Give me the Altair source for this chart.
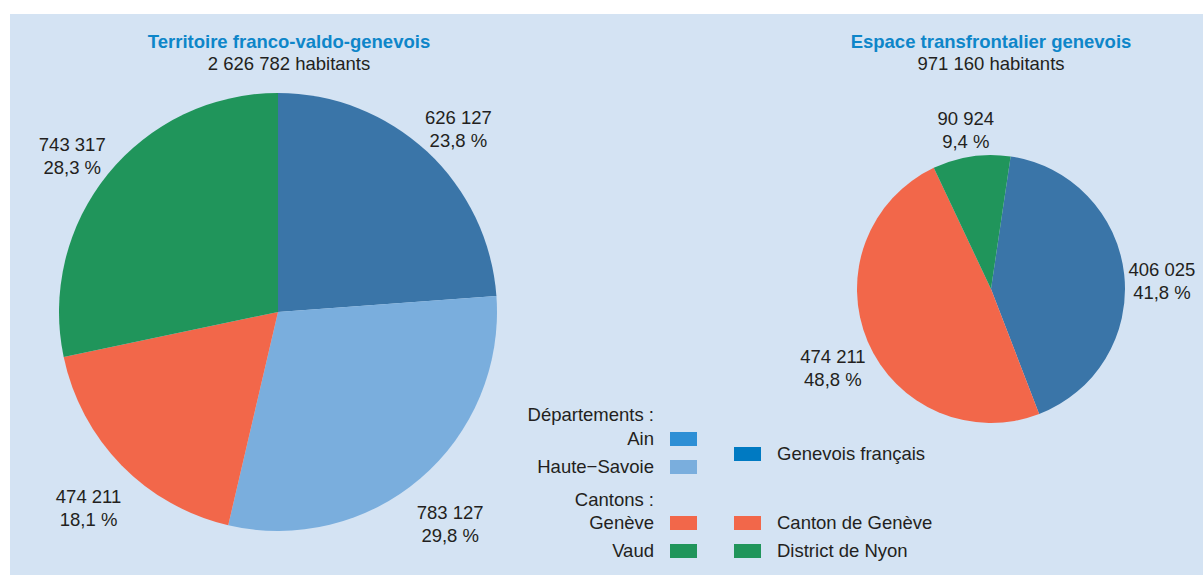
import math

import altair as alt
import pandas as pd

# Territoire franco-valdo-genevois: population by département / canton
areas_left = ["Ain", "Haute-Savoie", "Genève", "Vaud"]
pop_left = [626127, 783127, 474211, 743317]
colors_left = ["#3a75a8", "#7aaedd", "#f2674a", "#20955b"]

# Espace transfrontalier genevois: population by sub-area
areas_right = ["Genevois français", "Canton de Genève", "District de Nyon"]
pop_right = [406025, 474211, 90924]
colors_right = ["#3a75a8", "#f2674a", "#20955b"]

# Legend entries (label, swatch colour)
legend_departements = ["Ain", "Haute\u2212Savoie"]
legend_departements_colors = ["#2d8fd5", "#7aaedd"]
legend_cantons = ["Genève", "Vaud"]
legend_cantons_colors = ["#f2674a", "#20955b"]
legend_right = ["Genevois français", "Canton de Genève", "District de Nyon"]
legend_right_colors = ["#007ac2", "#f2674a", "#20955b"]

FONT = "Liberation Sans"
TEXT = "#231f20"
TITLE = "#0e86c9"
PANEL = "#d4e3f3"
W, H = 1203, 575
FS = 18.5


def fr_int(n):
    return f"{n:,}".replace(",", " ")


def fr_pct(v, total):
    return f"{v / total * 100:.1f}".replace(".", ",") + " %"


def pie_frame(names, values):
    total = sum(values)
    return pd.DataFrame({
        "name": names,
        "value": values,
        "order": list(range(len(names))),
        "label": [fr_int(v) + "\n" + fr_pct(v, total) for v in values],
    })


def pie(names, values, colors, cx, cy, r, label_r, start):
    df = pie_frame(names, values)
    theta = alt.Theta("value:Q", stack=True,
                      scale=alt.Scale(range=[start, start + 2 * math.pi]))
    base = alt.Chart(df).encode(theta=theta, order=alt.Order("order:Q"))
    arcs = base.mark_arc(radius=r, stroke=None).encode(
        x=alt.value(cx), y=alt.value(cy),
        color=alt.Color("name:N", scale=alt.Scale(domain=names, range=colors),
                        legend=None),
    )
    labels = base.mark_text(radius=label_r, lineBreak="\n", font=FONT,
                            fontSize=FS, color=TEXT, lineHeight=23,
                            baseline="middle").encode(
        x=alt.value(cx), y=alt.value(cy), text="label:N")
    return alt.layer(arcs, labels)


one = pd.DataFrame({"k": [0]})


def text_at(s, x, y, align="center", bold=False, color=TEXT):
    return alt.Chart(one).mark_text(
        font=FONT, fontSize=FS, fontWeight="bold" if bold else "normal",
        color=color, align=align, baseline="alphabetic",
    ).encode(x=alt.value(x), y=alt.value(y), text=alt.value(s))


def swatch(color, x, y):
    return alt.Chart(one).mark_rect(color=color).encode(
        x=alt.value(x), x2=alt.value(x + 27), y=alt.value(y), y2=alt.value(y + 14))


panel = alt.Chart(one).mark_rect(color=PANEL).encode(
    x=alt.value(10), x2=alt.value(W), y=alt.value(14), y2=alt.value(H))

layers = [panel]

# Titles
layers += [
    text_at("Territoire franco-valdo-genevois", 289, 48, bold=True, color=TITLE),
    text_at(fr_int(sum(pop_left)) + " habitants", 289, 70),
    text_at("Espace transfrontalier genevois", 991, 48, bold=True, color=TITLE),
    text_at(fr_int(sum(pop_right)) + " habitants", 991, 70),
]

# Legend, left column (labels right-aligned against the swatches)
layers.append(text_at("Départements :", 654, 421, align="right"))
for i, (name, col) in enumerate(zip(legend_departements, legend_departements_colors)):
    y = 432 + i * 28
    layers += [text_at(name, 654, y + 13, align="right"), swatch(col, 670, y)]
layers.append(text_at("Cantons :", 654, 506, align="right"))
for i, (name, col) in enumerate(zip(legend_cantons, legend_cantons_colors)):
    y = 516 + i * 28
    layers += [text_at(name, 654, y + 13, align="right"), swatch(col, 670, y)]

# Legend, right column
for name, col, y in zip(legend_right, legend_right_colors, [447, 516, 544]):
    layers += [swatch(col, 734, y), text_at(name, 777, y + 13, align="left")]

pie_left = pie(areas_left, pop_left, colors_left, 278, 312, 219, 265, 0.0)
pie_right = pie(areas_right, pop_right, colors_right, 991, 289, 134, 172, 0.147)

chart = alt.layer(*layers, pie_left, pie_right).resolve_scale(
    theta="independent", color="independent"
).properties(
    width=W, height=H, padding=0, autosize=alt.AutoSizeParams(type="none"),
    background="white",
).configure_view(stroke=None)

chart.save("out.html", embed_options={"renderer": "svg", "actions": False})
